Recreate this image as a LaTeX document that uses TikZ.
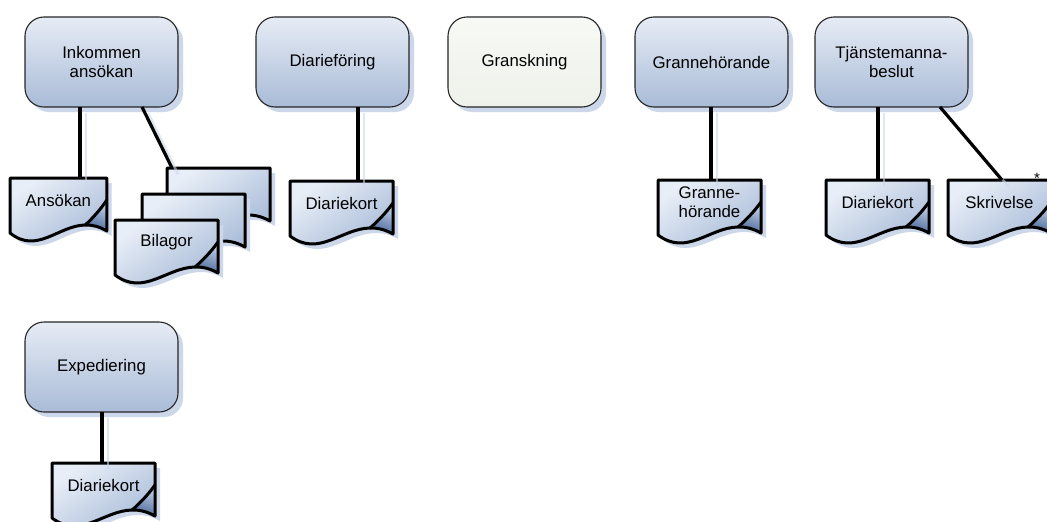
\documentclass[tikz,border=0pt]{standalone}
\usepackage{fontspec}
\setmainfont{Liberation Sans}
\usetikzlibrary{calc,shadows}

\definecolor{shadowblue}{HTML}{CCD7E9}
\definecolor{boxtop}{HTML}{E6ECF5}
\definecolor{boxbot}{HTML}{A9BBD7}
\definecolor{plaintop}{HTML}{F7F9F5}
\definecolor{plainbot}{HTML}{EEF2EA}
\definecolor{doctop}{HTML}{E8EEF7}
\definecolor{docbot}{HTML}{A4B8D6}
\definecolor{folddark}{HTML}{4A6A9B}
\definecolor{foldlight}{HTML}{C6D2E6}

\newcommand\diagfont{\fontsize{16.8}{18.5}\selectfont}

% outline of a sheet of paper with a wavy lower edge (local units, 103 x 67)
\newcommand\docpath[1]{%
  \path[#1] (0,0) -- (103,0) -- (103,53)
    .. controls (94.8,48.4) and (87.2,46.8) .. (80,47)
    .. controls (51.2,47.6) and (28.8,76.6) .. (0,55) -- cycle;}

% #1 name, #2 top-left corner, #3 width factor, #4 folded corner (1/0), #5 label
\newcommand\paperdoc[5]{%
  \begin{scope}[shift={(#2)}, xscale=#3]
    \docpath{fill=shadowblue, shift={(5,5)}}
    \docpath{docshade}
    \ifnum#4=1
      \path[foldshade] (103,22) .. controls (96,32) and (86,42) .. (80,47)
        .. controls (87.2,46.8) and (94.8,48.4) .. (103,53) -- cycle;
    \fi
    \docpath{docline}
    \ifnum#4=1
      \draw[docline] (103,22) .. controls (96,32) and (86,42) .. (80,47);
    \fi
    \node[doclabel, minimum width=#3*103pt] (#1) at (0,0) {#5};
  \end{scope}}

\begin{document}
\begin{tikzpicture}[x=1pt, y=-1pt,
  proc/.style={draw=black!85, line width=1.1pt, rounded corners=19pt,
    minimum width=153pt, minimum height=90pt, anchor=north west,
    inner sep=0pt, outer sep=0pt, align=center, font=\diagfont,
    top color=boxtop, bottom color=boxbot,
    drop shadow={shadow xshift=5pt, shadow yshift=-5pt, fill=shadowblue, opacity=1}},
  plainproc/.style={proc, top color=plaintop, bottom color=plainbot},
  docshade/.style={top color=doctop, bottom color=docbot, shading angle=35},
  foldshade/.style={top color=foldlight, bottom color=folddark, shading angle=-20},
  docline/.style={draw=black, line width=3pt, line join=round},
  doclabel/.style={anchor=north west, minimum height=44pt, inner sep=0pt,
    outer sep=0pt, align=center, font=\diagfont},
  conn/.style={draw=black, line width=3.2pt},
  connshadow/.style={draw=shadowblue, line width=2.6pt, opacity=0.6,
    transform canvas={shift={(6pt,-6pt)}}}
]
\useasboundingbox (0,0) rectangle (1047,522);
\fill[white] (0,0) rectangle (1047,522);
\clip (0,0) rectangle (1047,522);

% process steps
\node[proc] (ink) at (25,17) {Inkommen\\ansökan};
\node[proc] (diar) at (256,17) {Diarieföring};
\node[plainproc] (gran) at (448,17) {Granskning};
\node[proc] (grann) at (635,17) {Grannehörande};
\node[proc] (tjan) at (815,17) {Tjänstemanna-\\beslut};
\node[proc] (exp) at (25,322) {Expediering};

% documents
\paperdoc{ans}{10,178}{0.94}{1}{Ansökan}
\paperdoc{bil3}{167,168}{1}{0}{}
\paperdoc{bil2}{142,194}{1}{0}{}
\paperdoc{bil1}{115,220}{1}{1}{Bilagor}
\paperdoc{dk1}{290,181}{1}{1}{Diariekort}
\paperdoc{gh}{658,180}{1}{1}{Granne-\\hörande}
\paperdoc{dk2}{826,180}{1}{1}{Diariekort}
\paperdoc{skr}{948,180}{1}{1}{Skrivelse}
\paperdoc{dk3}{52,463}{1}{1}{Diariekort}

\node[font=\fontsize{15}{16}\selectfont, inner sep=0pt] (star) at (1037,178) {*};

% connector shadows
\draw[connshadow] ($(ink.south west)+(55,0)$) -- ($(ans.north west)+(70,0)$);
\draw[connshadow] ($(ink.south west)+(117,0)$) -- ($(bil3.north west)+(5,0)$);
\draw[connshadow] ($(diar.south west)+(102,0)$) -- ($(dk1.north west)+(68,0)$);
\draw[connshadow] ($(grann.south west)+(76,0)$) -- ($(gh.north west)+(53,0)$);
\draw[connshadow] ($(tjan.south west)+(63,0)$) -- ($(dk2.north west)+(52,0)$);
\draw[connshadow] ($(tjan.south west)+(125,0)$) -- ($(skr.north west)+(54,0)$);
\draw[connshadow] ($(exp.south west)+(77,0)$) -- ($(dk3.north west)+(50,0)$);

% connectors
\draw[conn] ($(ink.south west)+(55,0)$) -- ($(ans.north west)+(70,0)$);
\draw[conn] ($(ink.south west)+(117,0)$) -- ($(bil3.north west)+(5,0)$);
\draw[conn] ($(diar.south west)+(102,0)$) -- ($(dk1.north west)+(68,0)$);
\draw[conn] ($(grann.south west)+(76,0)$) -- ($(gh.north west)+(53,0)$);
\draw[conn] ($(tjan.south west)+(63,0)$) -- ($(dk2.north west)+(52,0)$);
\draw[conn] ($(tjan.south west)+(125,0)$) -- ($(skr.north west)+(54,0)$);
\draw[conn] ($(exp.south west)+(77,0)$) -- ($(dk3.north west)+(50,0)$);
\end{tikzpicture}
\end{document}
